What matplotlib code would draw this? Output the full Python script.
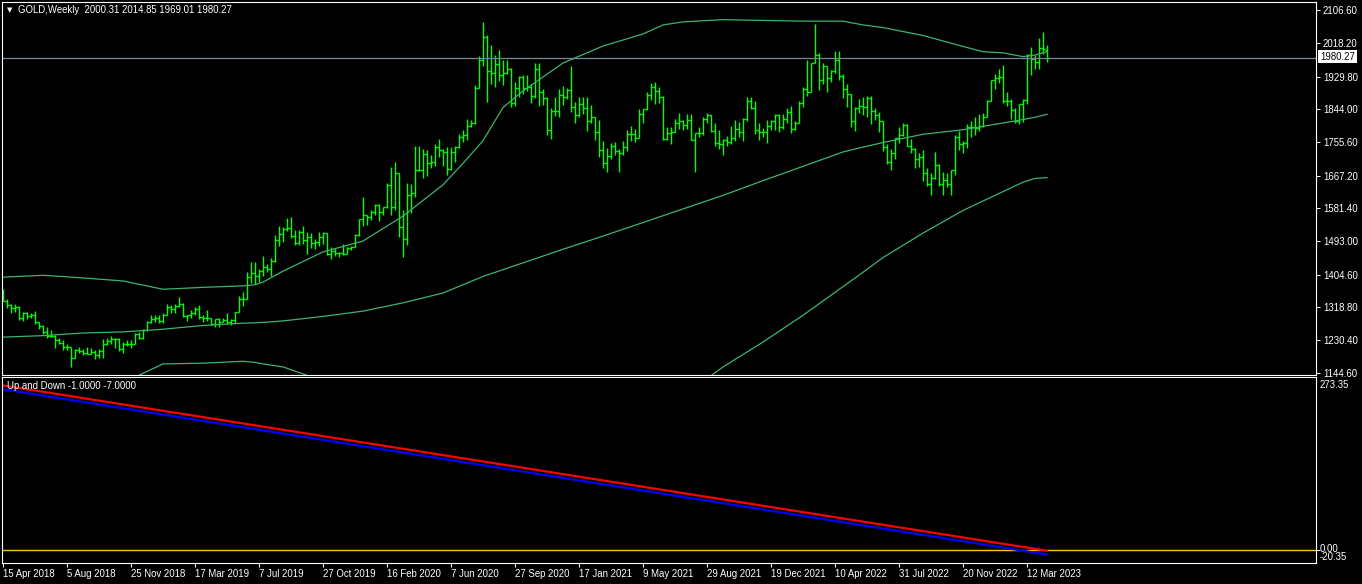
import matplotlib
matplotlib.use("Agg")
import matplotlib.pyplot as plt
import numpy as np

# ---------------- data (weekly GOLD bars, 15 Apr 2018 .. 16 Apr 2023) ----------------
opens = [
    1345, 1336, 1323, 1315, 1320, 1291, 1302, 1294, 1298, 1279, 1269, 1252, 1241, 1242, 1231, 1223, 1214, 1212, 1184,
    1206, 1201, 1196, 1194, 1199, 1192, 1203, 1222, 1228, 1234, 1233, 1208, 1222, 1222, 1221, 1248, 1238, 1257, 1280,
    # 2019
    1287, 1291, 1282, 1298, 1318, 1314, 1322, 1328, 1294, 1298, 1302, 1313, 1292, 1291, 1290, 1275, 1286, 1280, 1285,
    1278, 1284, 1305, 1341, 1341, 1399, 1409, 1400, 1415, 1426, 1419, 1440, 1497, 1513, 1527, 1529, 1506, 1488, 1517,
    1497, 1505, 1489, 1490, 1505, 1514, 1459, 1468, 1462, 1463, 1460, 1476, 1479, 1510,
    # 2020
    1552, 1562, 1557, 1571, 1589, 1570, 1584, 1643, 1585, 1673, 1530, 1498, 1617, 1620, 1683, 1683, 1726, 1700, 1703,
    1743, 1734, 1730, 1684, 1730, 1743, 1771, 1775, 1798, 1808, 1901, 1975, 2035, 1944, 1940, 1964, 1933, 1940, 1950,
    1861, 1900, 1930, 1899, 1902, 1879, 1951, 1889, 1872, 1788, 1839, 1839, 1881, 1877,
    # 2021
    1895, 1849, 1828, 1856, 1848, 1813, 1824, 1784, 1734, 1700, 1719, 1745, 1732, 1728, 1744, 1777, 1777, 1768, 1831,
    1843, 1881, 1902, 1891, 1877, 1764, 1781, 1784, 1808, 1812, 1802, 1814, 1763, 1780, 1781, 1817, 1827, 1787, 1754,
    1750, 1761, 1757, 1768, 1792, 1783, 1818, 1865, 1846, 1788, 1783, 1783, 1798, 1811,
    # 2022
    1829, 1797, 1817, 1835, 1791, 1808, 1859, 1898, 1889, 1966, 1988, 1921, 1958, 1925, 1945, 1974, 1931, 1896, 1883,
    1811, 1846, 1853, 1850, 1872, 1840, 1827, 1811, 1742, 1703, 1727, 1766, 1775, 1802, 1747, 1738, 1712, 1716, 1675,
    1644, 1660, 1695, 1644, 1657, 1645, 1681, 1771, 1751, 1755, 1797, 1797, 1793, 1798,
    # 2023
    1824, 1866, 1920, 1926, 1928, 1865, 1865, 1842, 1811, 1856, 1867, 1988, 1977, 1969, 2007, 2000.31,
]
highs = [
    1366, 1339, 1328, 1326, 1322, 1307, 1306, 1303, 1309, 1280, 1272, 1265, 1259, 1244, 1236, 1231, 1221, 1212, 1207,
    1214, 1207, 1212, 1209, 1205, 1207, 1233, 1236, 1243, 1238, 1237, 1226, 1231, 1231, 1250, 1253, 1261, 1283, 1299,
    # 2019
    1298, 1298, 1304, 1326, 1323, 1327, 1346, 1330, 1299, 1311, 1320, 1324, 1297, 1310, 1290, 1288, 1290, 1289, 1304,
    1287, 1306, 1348, 1358, 1411, 1439, 1438, 1419, 1453, 1433, 1450, 1510, 1535, 1531, 1555, 1557, 1523, 1522, 1535,
    1519, 1516, 1498, 1519, 1518, 1515, 1477, 1476, 1466, 1485, 1479, 1482, 1513, 1553,
    # 2020
    1611, 1564, 1575, 1591, 1591, 1584, 1649, 1689, 1703, 1675, 1575, 1647, 1645, 1747, 1747, 1739, 1735, 1722, 1752,
    1765, 1738, 1744, 1744, 1745, 1779, 1789, 1818, 1815, 1908, 1984, 2075, 2039, 2015, 1986, 2000, 1973, 1973, 1954,
    1916, 1932, 1933, 1933, 1910, 1966, 1965, 1898, 1875, 1848, 1875, 1896, 1906, 1900,
    # 2021
    1959, 1863, 1875, 1875, 1875, 1855, 1824, 1816, 1760, 1740, 1755, 1756, 1738, 1759, 1789, 1798, 1790, 1843, 1845,
    1890, 1913, 1916, 1903, 1878, 1795, 1795, 1818, 1834, 1816, 1832, 1832, 1781, 1795, 1823, 1834, 1827, 1808, 1788,
    1764, 1772, 1800, 1814, 1810, 1819, 1877, 1877, 1865, 1808, 1793, 1815, 1815, 1831,
    # 2022
    1831, 1831, 1848, 1853, 1813, 1865, 1902, 1974, 1966, 2070, 1993, 1966, 1959, 1948, 1998, 1998, 1937, 1910, 1884,
    1849, 1870, 1875, 1878, 1879, 1847, 1835, 1812, 1752, 1739, 1767, 1795, 1808, 1803, 1765, 1740, 1728, 1735, 1688,
    1675, 1730, 1697, 1677, 1675, 1682, 1774, 1787, 1760, 1805, 1811, 1824, 1832, 1833,
    # 2023
    1869, 1922, 1937, 1949, 1960, 1890, 1870, 1848, 1858, 1870, 1989, 2009, 1988, 2032, 2048, 2014.85,
]
lows = [
    1336, 1316, 1302, 1306, 1285, 1282, 1288, 1290, 1273, 1261, 1247, 1238, 1239, 1211, 1220, 1204, 1206, 1160, 1183,
    1197, 1191, 1193, 1194, 1181, 1183, 1183, 1217, 1221, 1211, 1203, 1196, 1215, 1211, 1220, 1235, 1234, 1256, 1277,
    # 2019
    1279, 1276, 1276, 1298, 1303, 1302, 1320, 1292, 1281, 1289, 1298, 1287, 1280, 1283, 1270, 1266, 1266, 1279, 1275,
    1272, 1277, 1305, 1321, 1340, 1383, 1381, 1386, 1400, 1412, 1400, 1437, 1480, 1491, 1520, 1503, 1484, 1484, 1486,
    1459, 1475, 1474, 1482, 1486, 1456, 1445, 1455, 1452, 1456, 1459, 1470, 1478, 1508,
    # 2020
    1535, 1536, 1550, 1563, 1548, 1562, 1581, 1563, 1575, 1504, 1451, 1484, 1567, 1610, 1680, 1660, 1667, 1688, 1692,
    1717, 1693, 1670, 1683, 1704, 1741, 1757, 1762, 1795, 1803, 1900, 1958, 1863, 1911, 1902, 1917, 1907, 1936, 1849,
    1851, 1877, 1885, 1892, 1860, 1872, 1851, 1854, 1774, 1764, 1826, 1823, 1855, 1871,
    # 2021
    1836, 1808, 1822, 1831, 1785, 1807, 1761, 1717, 1687, 1677, 1712, 1722, 1677, 1721, 1733, 1760, 1757, 1767, 1808,
    1842, 1869, 1856, 1861, 1761, 1761, 1750, 1783, 1791, 1788, 1790, 1762, 1677, 1770, 1776, 1808, 1782, 1745, 1737,
    1721, 1746, 1750, 1760, 1771, 1758, 1812, 1844, 1778, 1762, 1770, 1753, 1788, 1789,
    # 2022
    1782, 1791, 1806, 1780, 1788, 1806, 1849, 1878, 1889, 1966, 1895, 1911, 1890, 1915, 1940, 1922, 1872, 1850, 1797,
    1786, 1833, 1829, 1824, 1805, 1816, 1784, 1732, 1697, 1681, 1711, 1754, 1773, 1746, 1727, 1688, 1691, 1654, 1639,
    1615, 1659, 1640, 1617, 1638, 1616, 1669, 1736, 1727, 1740, 1770, 1774, 1785, 1795,
    # 2023
    1823, 1866, 1896, 1912, 1861, 1852, 1818, 1808, 1804, 1809, 1858, 1935, 1949, 1950, 1991, 1969.01,
]
closes = [
    1336, 1323, 1315, 1320, 1291, 1302, 1294, 1298, 1279, 1269, 1252, 1241, 1242, 1231, 1223, 1214, 1212, 1184, 1206,
    1201, 1196, 1194, 1199, 1192, 1203, 1222, 1228, 1234, 1233, 1208, 1222, 1222, 1221, 1248, 1238, 1257, 1280, 1287,
    # 2019
    1291, 1282, 1298, 1318, 1314, 1322, 1328, 1294, 1298, 1302, 1313, 1292, 1291, 1290, 1275, 1286, 1280, 1285, 1278,
    1284, 1305, 1341, 1341, 1399, 1409, 1400, 1415, 1426, 1419, 1440, 1497, 1513, 1527, 1529, 1506, 1488, 1517, 1497,
    1505, 1489, 1490, 1505, 1514, 1459, 1468, 1462, 1463, 1460, 1476, 1479, 1510, 1552,
    # 2020
    1562, 1557, 1571, 1589, 1570, 1584, 1643, 1585, 1673, 1530, 1498, 1617, 1620, 1683, 1683, 1726, 1700, 1703, 1743,
    1734, 1730, 1684, 1730, 1743, 1771, 1775, 1798, 1808, 1901, 1975, 2035, 1944, 1940, 1964, 1933, 1940, 1950, 1861,
    1900, 1930, 1899, 1902, 1879, 1951, 1889, 1872, 1788, 1839, 1839, 1881, 1877, 1895,
    # 2021
    1849, 1828, 1856, 1848, 1813, 1824, 1784, 1734, 1700, 1719, 1745, 1732, 1728, 1744, 1777, 1777, 1768, 1831, 1843,
    1881, 1902, 1891, 1877, 1764, 1781, 1784, 1808, 1812, 1802, 1814, 1763, 1780, 1781, 1817, 1827, 1787, 1754, 1750,
    1761, 1757, 1768, 1792, 1783, 1818, 1865, 1846, 1788, 1783, 1783, 1798, 1811, 1829,
    # 2022
    1797, 1817, 1835, 1791, 1808, 1859, 1898, 1889, 1966, 1988, 1921, 1958, 1925, 1945, 1974, 1931, 1896, 1883, 1811,
    1846, 1853, 1850, 1872, 1840, 1827, 1811, 1742, 1703, 1727, 1766, 1775, 1802, 1747, 1738, 1712, 1716, 1675, 1644,
    1660, 1695, 1644, 1657, 1645, 1681, 1771, 1751, 1755, 1797, 1797, 1793, 1798, 1824,
    # 2023
    1866, 1920, 1926, 1928, 1865, 1865, 1842, 1811, 1856, 1867, 1988, 1977, 1969, 2007, 2004, 1980.27,
]

# Bollinger-type envelope (bar index -> price)
band_idx = [0, 10, 20, 30, 40, 50, 60, 63, 65, 70, 80, 90, 100, 110, 115, 120, 125, 130, 140, 150, 160, 165,
            170, 180, 190, 200, 210, 215, 220, 230, 240, 245, 250, 255, 258, 261]
band_upper = [1398, 1403, 1396, 1388, 1366, 1371, 1375, 1378, 1385, 1414, 1465, 1494, 1560, 1643, 1700, 1760,
              1848, 1892, 1966, 2011, 2043, 2067, 2075, 2081, 2079, 2077, 2077, 2067, 2060, 2039, 2010, 1996,
              1993, 1983, 1987, 1996]
band_mid = [1239, 1243, 1250, 1253, 1260, 1270, 1276, 1277, 1278, 1282, 1294, 1308, 1330, 1356, 1378, 1400,
            1418, 1436, 1472, 1507, 1543, 1561, 1579, 1615, 1654, 1692, 1730, 1743, 1755, 1777, 1789, 1798,
            1807, 1816, 1822, 1830]
band_lower = [1080, 1083, 1104, 1118, 1168, 1170, 1175, 1172, 1168, 1160, 1123, 1120, 1100, 1070, 1056, 1040,
              990, 980, 978, 1003, 1043, 1060, 1083, 1160, 1226, 1297, 1373, 1411, 1450, 1515, 1575, 1600,
              1625, 1650, 1660, 1662]

current_price = 1980.27
title_text = "GOLD,Weekly  2000.31 2014.85 1969.01 1980.27"

price_ticks = [2106.60, 2018.20, 1929.80, 1844.00, 1755.60, 1667.20, 1581.40, 1493.00, 1404.60, 1318.80,
               1230.40, 1144.60]
price_tick_labels = ["2106.60", "2018.20", "1929.80", "1844.00", "1755.60", "1667.20", "1581.40", "1493.00",
                     "1404.60", "1318.80", "1230.40", "1144.60"]

date_labels = ["15 Apr 2018", "5 Aug 2018", "25 Nov 2018", "17 Mar 2019", "7 Jul 2019", "27 Oct 2019",
               "16 Feb 2020", "7 Jun 2020", "27 Sep 2020", "17 Jan 2021", "9 May 2021", "29 Aug 2021",
               "19 Dec 2021", "10 Apr 2022", "31 Jul 2022", "20 Nov 2022", "12 Mar 2023"]
date_label_step = 16  # bars between date labels

# "Up and Down" indicator
ud_idx = [0, 65, 130, 195, 261]
ud_red = [260, 195, 130, 65, -1]
ud_blue = [254, 189, 124, 59, -7]
ud_title = "Up and Down -1.0000 -7.0000"
ud_max_label, ud_zero_label, ud_min_label = "273.35", "0.00", "-20.35"
ud_ylim = (-20.35, 273.35)

# ---------------- drawing ----------------
plt.rcParams['font.family'] = ['Liberation Sans', 'DejaVu Sans']
FS = 6.9
W, H = 1362, 584
fig = plt.figure(figsize=(W / 100, H / 100), dpi=100, facecolor='black')


def rect(x0, y0, x1, y1):
    return [x0 / W, 1 - y1 / H, (x1 - x0) / W, (y1 - y0) / H]


ax = fig.add_axes(rect(2, 2, 1316, 375))
ax2 = fig.add_axes(rect(2, 377, 1316, 563))

BAR = '#00ff00'
LINE = '#3CB371'
for a in (ax, ax2):
    a.set_facecolor('black')
    for s in a.spines.values():
        s.set_color('white')
        s.set_linewidth(0.8)
    a.set_xlim(-0.25, 328.25)

x = np.arange(len(closes))
ax.vlines(x, lows, highs, color=BAR, lw=1.0)
ax.hlines(opens, x - 0.4, x, color=BAR, lw=1.0)
ax.hlines(closes, x, x + 0.4, color=BAR, lw=1.0)

ax.plot(band_idx, band_upper, color=LINE, lw=0.9)
ax.plot(band_idx, band_mid, color=LINE, lw=0.9)
ax.plot(band_idx, band_lower, color=LINE, lw=0.9)
ax.axhline(current_price, color='#778899', lw=0.9)

ax.set_ylim(1138.6, 2127.8)
ax.yaxis.tick_right()
ax.set_yticks(price_ticks)
ax.set_yticklabels(price_tick_labels)
ax.tick_params(axis='y', colors='white', length=3, width=0.7, pad=2, labelsize=FS, direction='out')
ax.tick_params(axis='x', bottom=False, labelbottom=False)

# current price label
fig.text(1320 / W, 1 - 56.5 / H, f"{current_price:.2f}", color='black', fontsize=FS, ha='left', va='center',
         bbox=dict(boxstyle='square,pad=0.2', facecolor='white', edgecolor='none'))

# title
fig.text(10 / W, 1 - 10 / H, "\u25bc", color='white', fontsize=5, ha='center', va='center', family='DejaVu Sans')
fig.text(18 / W, 1 - 10 / H, title_text, color='white', fontsize=FS, ha='left', va='center')

# lower panel
ax2.axhline(0, color='#FFC800', lw=1.0)
ax2.plot(ud_idx, ud_blue, color='#0000ff', lw=1.6)
ax2.plot(ud_idx, ud_red, color='#ff0000', lw=1.6)
ax2.set_ylim(*ud_ylim)
ax2.yaxis.tick_right()
ax2.set_yticks([0])
ax2.set_yticklabels([""])
ax2.tick_params(axis='y', colors='white', length=3, width=0.7)
fig.text(1320 / W, 1 - 385 / H, ud_max_label, color='white', fontsize=FS, ha='left', va='center')
fig.text(1320 / W, 1 - 549 / H, ud_zero_label, color='white', fontsize=FS, ha='left', va='center')
fig.text(1320 / W, 1 - 557 / H, ud_min_label, color='white', fontsize=FS, ha='left', va='center')
fig.text(7 / W, 1 - 386 / H, ud_title, color='white', fontsize=FS, ha='left', va='center')

tick_pos = np.arange(len(date_labels)) * date_label_step
ax2.set_xticks(tick_pos)
ax2.set_xticklabels(date_labels, ha='left')
ax2.tick_params(axis='x', colors='white', length=3, width=0.7, pad=1.5, labelsize=FS, direction='out')

fig.savefig("out.png", dpi=100, facecolor='black')
